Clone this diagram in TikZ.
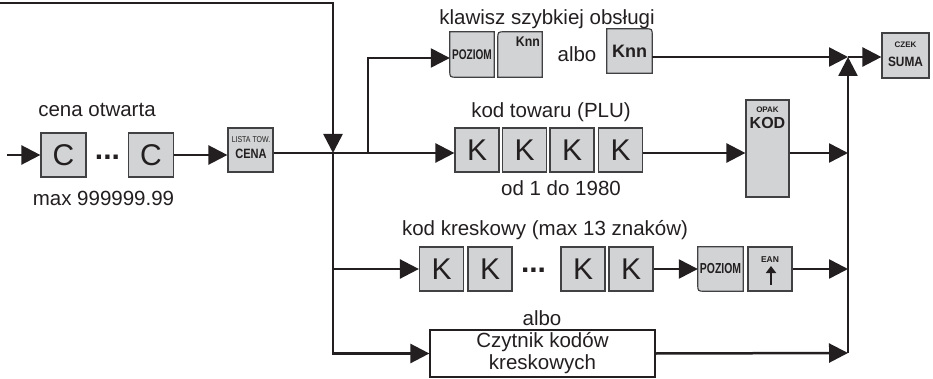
\documentclass[tikz,border=0pt]{standalone}
\usepackage{fontspec}
\setmainfont{Liberation Sans}
\newfontfamily\condA[FakeStretch=0.72]{Liberation Sans}
\newfontfamily\condB[FakeStretch=0.82]{Liberation Sans}
\newfontfamily\condC[FakeStretch=0.88]{Liberation Sans}
\usetikzlibrary{arrows.meta}
\definecolor{ink}{HTML}{231F20}
\definecolor{keyfill}{HTML}{D1D3D4}
\definecolor{keyline}{HTML}{414042}
\newcommand{\fs}[1]{\fontsize{#1}{#1}\selectfont}
\begin{document}
\begin{tikzpicture}[x=1pt,y=-1pt,
  conn/.style={draw=ink, line width=2.5pt},
  arr/.style={conn, -{Triangle[length=19pt,width=19pt]}},
  keybase/.style={inner sep=0pt, minimum width=44pt, minimum height=44pt, text=ink},
  key/.style={keybase, draw=keyline, fill=keyfill, line width=1.2pt},
  keyshape/.style={draw=keyline, fill=keyfill, line width=1.2pt},
  bigkey/.style={key, font=\fs{30}},
  lbl/.style={text=ink, inner sep=0pt, anchor=base, font=\fs{20.5}},
  klbl/.style={text=ink, inner sep=0pt, anchor=base}
  ]
\useasboundingbox (0,0) rectangle (933,379);

% --- keys ---
\node[bigkey, minimum width=45pt] (c1) at (63.5,155) {C};
\node[bigkey, minimum width=45pt] (c2) at (151,155) {C};
\node[key, minimum width=45pt] (cena) at (250.5,150) {};

\node[keybase, minimum height=45pt] (poz1) at (472,54.5) {};
\path[keyshape] (poz1.north west) -- (poz1.north east) -- (poz1.south east)
  -- ([xshift=7pt]poz1.south west) .. controls (poz1.south west) .. ([yshift=7pt]poz1.south west) -- cycle;
\node[keybase, minimum height=45pt] (knn1) at (520,54.5) {};
\path[keyshape] ([yshift=-7pt]knn1.north west) .. controls (knn1.north west) .. ([xshift=7pt]knn1.north west)
  -- (knn1.north east) -- (knn1.south east) -- (knn1.south west) -- cycle;
\node[keybase, minimum width=45pt] (knn2) at (629.5,51) {};
\path[keyshape] (knn2.north west) -- ([xshift=-7pt]knn2.north east) .. controls (knn2.north east) .. ([yshift=-7pt]knn2.north east)
  -- (knn2.south east) -- (knn2.south west) -- cycle;
\node[key, minimum width=47pt, minimum height=45pt] (suma) at (905.5,55.5) {};

\node[bigkey] (k1) at (477,150) {K};
\node[bigkey] (k2) at (524.5,150) {K};
\node[bigkey] (k3) at (572,150) {K};
\node[bigkey] (k4) at (620.5,150) {K};
\node[key, minimum width=43pt, minimum height=97pt] (kod) at (767.5,148.5) {};

\node[bigkey] (bk1) at (441.5,269) {K};
\node[bigkey] (bk2) at (490,269) {K};
\node[bigkey] (bk3) at (583,269) {K};
\node[bigkey] (bk4) at (631,269) {K};
\node[keybase, minimum width=45pt] (poz2) at (720.5,269) {};
\path[keyshape] (poz2.north west) -- (poz2.north east) -- (poz2.south east)
  -- ([xshift=7pt]poz2.south west) .. controls (poz2.south west) .. ([yshift=7pt]poz2.south west) -- cycle;
\node[key] (ean) at (770,269) {};

\node[text=ink, font=\fontsize{20.5}{22}\selectfont, align=center, inner sep=0pt,
  minimum width=225pt, minimum height=47pt, draw=ink, line width=1.2pt] (czyt) at (542.5,353.5) {Czytnik kodów\\kreskowych};

% --- key labels ---
\node[klbl, font=\condB\fs{8.5}] (tLista) at (251,143) {LISTA TOW.};
\node[klbl, font=\condB\bfseries\fs{13.5}] (tCenaK) at (251,159) {CENA};
\node[klbl, font=\condA\bfseries\fs{14}] (tPoz1) at (472,60) {POZIOM};
\node[klbl, font=\condC\bfseries\fs{14}, anchor=base east] (tKnn1) at (540,47) {Knn};
\node[klbl, font=\bfseries\fs{18}] (tKnn2) at (629.5,58) {Knn};
\node[klbl, font=\bfseries\fs{8}] (tOpak) at (767.5,113) {OPAK};
\node[klbl, font=\bfseries\fs{16}] (tKod) at (767.5,128.5) {KOD};
\node[klbl, font=\bfseries\fs{8}] (tCzek) at (905.5,48) {CZEK};
\node[klbl, font=\condC\bfseries\fs{13.5}] (tSuma) at (905.5,67) {SUMA};
\node[klbl, font=\condA\bfseries\fs{14.5}] (tPoz2) at (720.5,273.5) {POZIOM};
\node[klbl, font=\bfseries\fs{8.5}] (tEan) at (770,262) {EAN};
\draw[draw=ink, line width=2.6pt, -{Triangle[length=7pt,width=10pt]}] (771,285) -- (771,266);

% --- texts ---
\node[lbl] (tKlaw) at (547,25) {klawisz szybkiej obsługi};
\node[lbl] (tAlbo1) at (577,62) {albo};
\node[lbl] (tCena) at (97,117) {cena otwarta};
\node[lbl] (tMax) at (103.5,206) {max 999999.99};
\node[lbl] (tPlu) at (551,118) {kod towaru (PLU)};
\node[lbl] (tOd) at (561,196) {od 1 do 1980};
\node[lbl] (tKres) at (545,235) {kod kreskowy (max 13 znaków)};
\node[lbl] (tAlbo2) at (542,325) {albo};
\node[klbl, font=\fs{30}\bfseries] (dots1) at (107.5,160) {...};
\node[klbl, font=\fs{30}\bfseries] (dots2) at (533.5,272) {...};

% --- connectors ---
\coordinate (in) at (7,155);
\coordinate (topL) at (0,3);
\coordinate (J) at (333,153);
\coordinate (B) at (368,153);
\coordinate (Bt) at (368,58);
\coordinate (R) at (848,57);
\coordinate (Rb) at (848,353);

\draw[arr] (in) -- (c1.west);
\draw[arr] (c2.east) -- (c2.east -| cena.west);
\draw[arr] (topL) -| (J);
\draw[conn] (cena.east |- J) -- (B);
\draw[arr] (B) -- (k1.west |- J);
\draw[arr] (B) -- (Bt) -- (poz1.west |- Bt);
\draw[arr] (knn2.east |- R) -- (R);
\draw[arr] (R) -- (suma.west |- R);
\draw[arr] (Rb) -- (R);
\draw[arr] (k4.east |- J) -- (kod.west |- J);
\draw[arr] (kod.east |- J) -- (Rb |- J);
\draw[arr] (J) |- (bk1.west);
\draw[arr] (bk4.east) -- (poz2.west);
\draw[arr] (ean.east) -- (Rb |- ean.east);
\draw[arr] (J) |- (czyt.west);
\draw[arr] (czyt.east) -- (Rb);
\end{tikzpicture}
\end{document}
